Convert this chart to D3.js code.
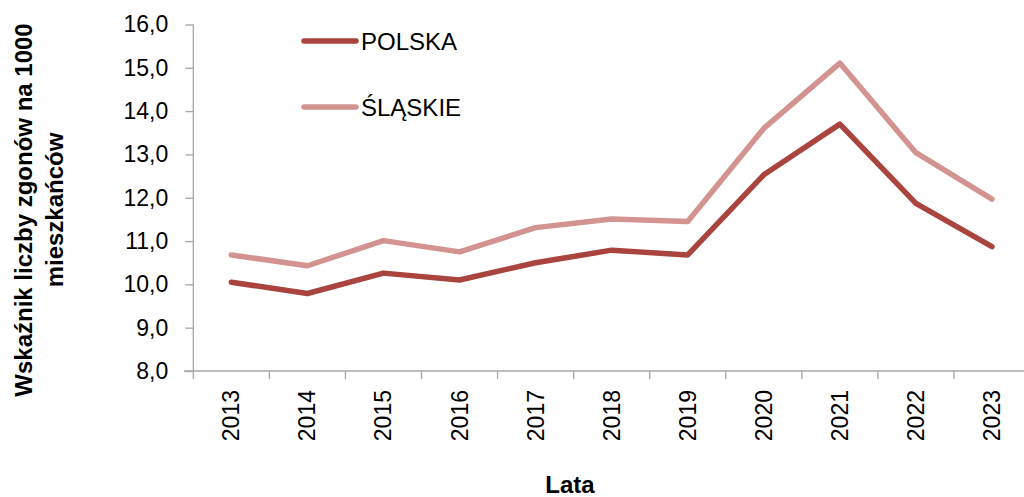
<!DOCTYPE html>
<html><head><meta charset="utf-8">
<script src="https://cdn.jsdelivr.net/npm/d3@7"></script>
<style>
html,body{margin:0;padding:0;background:#fff;}
svg{display:block;font-family:"Liberation Sans",Arial,sans-serif;}
</style></head>
<body>
<svg id="c" width="1024" height="497"></svg>
<script>
const years = ["2013","2014","2015","2016","2017","2018","2019","2020","2021","2022","2023"];
const polska = [10.05, 9.79, 10.26, 10.10, 10.50, 10.79, 10.68, 12.53, 13.70, 11.87, 10.87];
const slaskie = [10.68, 10.43, 11.01, 10.75, 11.31, 11.51, 11.45, 13.60, 15.11, 13.04, 11.97];
const yTicks = [8, 9, 10, 11, 12, 13, 14, 15, 16];
const seriesNames = ["POLSKA", "ŚLĄSKIE"];
const colors = ["#A9443F", "#D39391"];

const svg = d3.select("#c");
const x = d3.scaleBand().domain(years).range([193.3, 1030]).paddingInner(0).paddingOuter(0);
const y = d3.scaleLinear().domain([8, 16]).range([371, 24.5]);
const axisColor = "#A6A6A6";

// Y axis
const ya = svg.append("g").attr("transform", "translate(193.3,0)")
  .call(d3.axisLeft(y).tickValues(yTicks).tickSize(8).tickPadding(17)
    .tickFormat(d => d3.format(".1f")(d).replace(".", ",")));
ya.select(".domain").attr("stroke", axisColor).attr("stroke-width", 1.3).attr("d", `M0,${y(16)}V${y(8)}`);
ya.selectAll(".tick line").attr("stroke", axisColor).attr("stroke-width", 1.3);
ya.selectAll(".tick text").attr("font-size", 23).attr("fill", "#000").attr("font-family", "Liberation Sans, Arial");

// X axis line
svg.append("line").attr("x1", 184).attr("x2", 1024).attr("y1", y(8)).attr("y2", y(8))
  .attr("stroke", axisColor).attr("stroke-width", 1.3);
// x ticks at band boundaries
const bounds = years.map(d => x(d)).concat([x(years[years.length-1]) + x.bandwidth()]);
svg.append("g").selectAll("line").data(bounds).join("line")
  .attr("x1", d => d).attr("x2", d => d).attr("y1", y(8)).attr("y2", y(8) + 8)
  .attr("stroke", axisColor).attr("stroke-width", 1.3);
// x labels
svg.append("g").selectAll("text").data(years).join("text")
  .attr("transform", d => `translate(${x(d) + x.bandwidth()/2 + 8},390) rotate(-90)`)
  .attr("text-anchor", "end").attr("font-size", 23).attr("fill", "#000").text(d => d);

// Lines
const line = d3.line().x((d, i) => x(years[i]) + x.bandwidth()/2).y(d => y(d));
[polska, slaskie].forEach((s, k) => {
  svg.append("path").attr("d", line(s)).attr("fill", "none")
    .attr("stroke", colors[k]).attr("stroke-width", 5.5)
    .attr("stroke-linejoin", "round").attr("stroke-linecap", "round");
});

// Legend
const legY = [41, 107];
seriesNames.forEach((n, k) => {
  svg.append("line").attr("x1", 304).attr("x2", 356).attr("y1", legY[k]).attr("y2", legY[k])
    .attr("stroke", colors[k]).attr("stroke-width", 5.5).attr("stroke-linecap", "round");
  svg.append("text").attr("x", 361).attr("y", legY[k] + 9).attr("font-size", 24).attr("fill", "#000").text(n);
});

// Axis titles
svg.append("text").attr("x", 570).attr("y", 493).attr("text-anchor", "middle")
  .attr("font-size", 24).attr("font-weight", "bold").text("Lata");
const yt = svg.append("text").attr("transform", "translate(0,210) rotate(-90)")
  .attr("text-anchor", "middle").attr("font-size", 24).attr("font-weight", "bold");
yt.append("tspan").attr("x", 0).attr("y", 32).text("Wskaźnik liczby zgonów na 1000");
yt.append("tspan").attr("x", 0).attr("y", 63).text("mieszkańców");
</script>
</body></html>
